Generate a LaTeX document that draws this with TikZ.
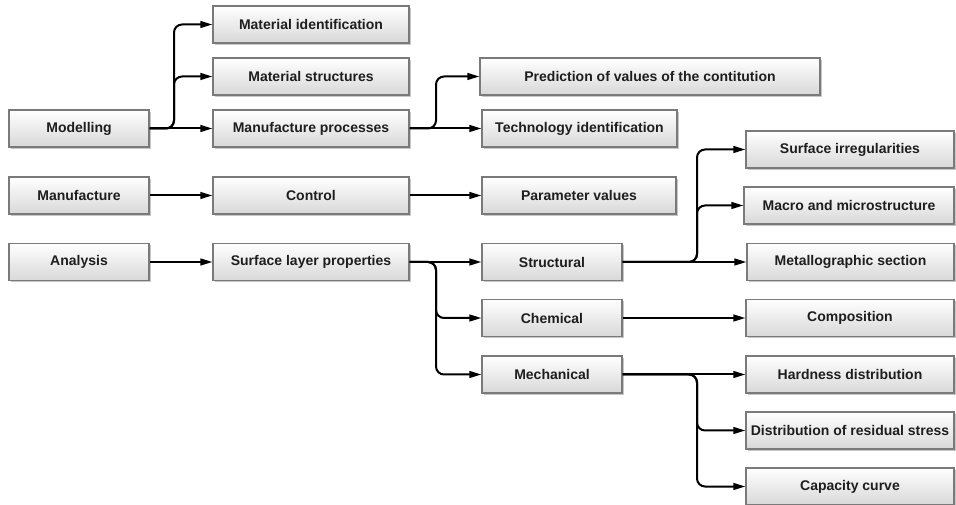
\documentclass[tikz,border=0pt]{standalone}
\usepackage{fontspec}
\setmainfont{Liberation Sans}
\usetikzlibrary{arrows.meta,shadows}
\definecolor{boxbot}{HTML}{D8D8D8}
\definecolor{boxline}{HTML}{7A7A7A}
\definecolor{txt}{HTML}{1E1E1E}
\begin{document}
\begin{tikzpicture}[x=0.75pt,y=-0.75pt,
 box/.style={draw=boxline, line width=0.8pt, top color=white, bottom color=boxbot,
   minimum height=27.75pt, inner sep=0pt, text=txt,
   font=\fontsize{10.5}{12}\selectfont\bfseries,
   drop shadow={shadow xshift=1.2pt, shadow yshift=-1.2pt, opacity=0.22, fill=black}},
 conn/.style={line width=1.5pt, rounded corners=6pt, -{Triangle[length=9pt,width=5pt]}}]
\useasboundingbox (0,0) rectangle (956,505);
% column 1
\node[box, minimum width=105pt] (mod) at (79,128.5) {Modelling};
\node[box, minimum width=105pt] (man) at (79,195.5) {Manufacture};
\node[box, minimum width=105pt] (ana) at (79,262) {Analysis};
% column 2
\node[box, minimum width=147pt] (mi) at (311,24.5) {Material identification};
\node[box, minimum width=147pt] (ms) at (311,76.5) {Material structures};
\node[box, minimum width=147pt] (mp) at (311,128.5) {Manufacture processes};
\node[box, minimum width=147pt] (ctl) at (311,195.5) {Control};
\node[box, minimum width=147pt] (slp) at (311,262) {Surface layer properties};
% column 3
\node[box, minimum width=255pt] (pred) at (650,76.5) {Prediction of values of the contitution};
\node[box, minimum width=146.25pt] (tech) at (579.5,128.5) {Technology identification};
\node[box, minimum width=145.5pt] (pv) at (579,195.5) {Parameter values};
\node[box, minimum width=105pt] (str) at (552,262) {Structural};
\node[box, minimum width=105pt] (chem) at (552,318) {Chemical};
\node[box, minimum width=105pt] (mech) at (552,374.5) {Mechanical};
% column 4
\node[box, minimum width=156pt] (si) at (850,149.5) {Surface irregularities};
\node[box, minimum width=157.5pt] (macro) at (849,205.5) {Macro and microstructure};
\node[box, minimum width=155.25pt] (met) at (850.5,262) {Metallographic section};
\node[box, minimum width=156pt] (comp) at (850,318) {Composition};
\node[box, minimum width=156pt] (hard) at (850,374.5) {Hardness distribution};
\node[box, minimum width=156pt] (dist) at (850,430.5) {Distribution of residual stress};
\node[box, minimum width=156pt] (cap) at (850,486.5) {Capacity curve};
% connectors
\coordinate (b1) at (174,128.5);
\coordinate (b2) at (436,128.5);
\coordinate (b3) at (436,262);
\coordinate (b4) at (697,262);
\coordinate (b5) at (697,374.5);
\draw[conn] (mod.east) -- (b1) |- (mi.west);
\draw[conn] (mod.east) -- (b1) |- (ms.west);
\draw[conn] (mod.east) -- (mp.west);
\draw[conn] (mp.east) -- (b2) |- (pred.west);
\draw[conn] (mp.east) -- (tech.west);
\draw[conn] (man.east) -- (ctl.west);
\draw[conn] (ctl.east) -- (pv.west);
\draw[conn] (ana.east) -- (slp.west);
\draw[conn] (slp.east) -- (str.west);
\draw[conn] (slp.east) -- (b3) |- (chem.west);
\draw[conn] (slp.east) -- (b3) |- (mech.west);
\draw[conn] (str.east) -- (b4) |- (si.west);
\draw[conn] (str.east) -- (b4) |- (macro.west);
\draw[conn] (str.east) -- (met.west);
\draw[conn] (chem.east) -- (comp.west);
\draw[conn] (mech.east) -- (hard.west);
\draw[conn] (mech.east) -- (b5) |- (dist.west);
\draw[conn] (mech.east) -- (b5) |- (cap.west);
\end{tikzpicture}
\end{document}
